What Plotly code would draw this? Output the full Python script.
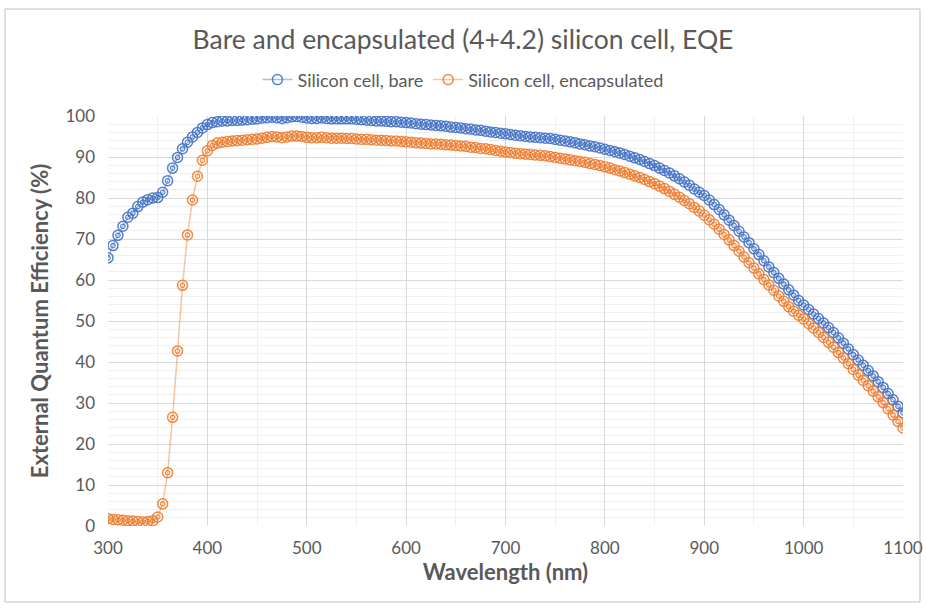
import plotly.graph_objects as go

# Wavelength grid (nm), 5 nm steps
wavelength = list(range(300, 1105, 5))

# EQE (%) of the bare silicon cell
eqe_bare = [
    65.4, 68.4, 70.9, 73.1, 75.3, 76.3, 77.9, 79.0, 79.6, 80.0,   # 300-345
    80.1, 81.4, 84.2, 87.3, 89.9, 92.0, 93.6, 94.9, 96.0, 97.1,   # 350-395
    97.9, 98.4, 98.6, 98.8, 98.8, 98.9, 98.9, 99.0, 99.1, 99.2,   # 400-445
    99.3, 99.5, 99.6, 99.7, 99.6, 99.4, 99.6, 99.8, 99.9, 99.7,   # 450-495
    99.5, 99.4, 99.4, 99.5, 99.4, 99.3, 99.3, 99.3, 99.3, 99.3,   # 500-545
    99.2, 99.1, 99.0, 98.9, 98.8, 98.8, 98.7, 98.6, 98.6, 98.5,   # 550-595
    98.4, 98.3, 98.1, 98.0, 97.9, 97.8, 97.7, 97.6, 97.5, 97.3,   # 600-645
    97.2, 97.1, 96.9, 96.8, 96.6, 96.5, 96.3, 96.1, 96.0, 95.8,   # 650-695
    95.7, 95.5, 95.3, 95.2, 95.0, 94.9, 94.8, 94.7, 94.6, 94.5,   # 700-745
    94.3, 94.1, 93.9, 93.7, 93.5, 93.2, 93.0, 92.7, 92.5, 92.2,   # 750-795
    91.9, 91.6, 91.3, 91.0, 90.6, 90.2, 89.8, 89.4, 88.9, 88.4,   # 800-845
    87.9, 87.3, 86.7, 86.1, 85.4, 84.7, 83.9, 83.1, 82.2, 81.4,   # 850-895
    80.6, 79.5, 78.4, 77.2, 75.9, 74.6, 73.3, 71.9, 70.5, 69.1,   # 900-945
    67.6, 66.2, 64.7, 63.2, 61.8, 60.4, 59.0, 57.6, 56.3, 55.0,   # 950-995
    53.9, 52.8, 51.7, 50.6, 49.5, 48.4, 47.2, 45.9, 44.6, 43.2,   # 1000-1045
    41.8, 40.5, 39.2, 37.9, 36.6, 35.2, 33.8, 32.3, 30.8, 29.2,   # 1050-1095
    27.6,                                                          # 1100
]

# EQE (%) of the encapsulated (4+4.2) silicon cell
eqe_encapsulated = [
    1.8, 1.6, 1.5, 1.4, 1.3, 1.2, 1.1, 1.0, 1.1, 1.3,             # 300-345
    2.2, 5.4, 13.0, 26.5, 42.7, 58.7, 71.0, 79.5, 85.3, 89.2,     # 350-395
    91.5, 92.8, 93.4, 93.6, 93.8, 93.9, 94.0, 94.1, 94.2, 94.3,   # 400-445
    94.4, 94.6, 94.8, 95.0, 94.9, 94.7, 94.9, 95.1, 95.1, 95.0,   # 450-495
    94.8, 94.7, 94.7, 94.8, 94.7, 94.6, 94.6, 94.6, 94.5, 94.5,   # 500-545
    94.4, 94.3, 94.3, 94.2, 94.1, 94.1, 94.0, 93.9, 93.9, 93.8,   # 550-595
    93.7, 93.6, 93.5, 93.4, 93.3, 93.2, 93.2, 93.1, 93.0, 92.9,   # 600-645
    92.8, 92.7, 92.6, 92.4, 92.3, 92.1, 92.0, 91.8, 91.6, 91.4,   # 650-695
    91.2, 91.1, 90.9, 90.8, 90.7, 90.6, 90.5, 90.4, 90.3, 90.1,   # 700-745
    89.9, 89.7, 89.5, 89.3, 89.1, 88.9, 88.7, 88.4, 88.2, 87.9,   # 750-795
    87.6, 87.3, 86.9, 86.6, 86.2, 85.8, 85.4, 85.0, 84.5, 84.0,   # 800-845
    83.5, 82.9, 82.3, 81.6, 80.9, 80.2, 79.4, 78.6, 77.7, 76.8,   # 850-895
    75.8, 74.7, 73.6, 72.4, 71.1, 69.8, 68.4, 67.0, 65.6, 64.2,   # 900-945
    62.9, 61.5, 60.1, 58.8, 57.5, 56.1, 54.8, 53.5, 52.4, 51.4,   # 950-995
    50.5, 49.4, 48.3, 47.2, 46.0, 44.8, 43.6, 42.3, 41.0, 39.6,   # 1000-1045
    38.2, 36.8, 35.5, 34.2, 32.9, 31.5, 30.1, 28.6, 27.1, 25.5,   # 1050-1095
    23.9,                                                          # 1100
]

series_names = ["Silicon cell, bare", "Silicon cell, encapsulated"]
series_values = [eqe_bare, eqe_encapsulated]
series_colors = ["68,114,196", "237,125,49"]

FONT = "Lato, 'Open Sans', sans-serif"
GREY = "#595959"

fig = go.Figure()

for name, vals, rgb in zip(series_names, series_values, series_colors):
    # connecting line with the outer ring of each marker
    fig.add_trace(go.Scatter(
        x=wavelength, y=vals, name=name, legendgroup=name,
        mode="lines+markers",
        line=dict(color=f"rgba({rgb},0.45)", width=1.5),
        marker=dict(symbol="circle-open", size=10,
                    color=f"rgba({rgb},0.9)",
                    line=dict(width=1.5, color=f"rgba({rgb},0.9)")),
    ))
    # inner ring of each marker
    fig.add_trace(go.Scatter(
        x=wavelength, y=vals, name=name, legendgroup=name, showlegend=False,
        mode="markers",
        marker=dict(symbol="circle-open", size=4.5,
                    color=f"rgba({rgb},0.9)",
                    line=dict(width=1.2, color=f"rgba({rgb},0.9)")),
        hoverinfo="skip",
    ))

fig.update_layout(
    width=926, height=608,
    margin=dict(l=108, r=23, t=116, b=82, autoexpand=False),
    paper_bgcolor="white", plot_bgcolor="white",
    font=dict(family=FONT, color=GREY, size=16),
    title=dict(text="Bare and encapsulated (4+4.2) silicon cell, EQE",
               x=0.5, xanchor="center", y=0.934, yanchor="middle",
               font=dict(family=FONT, size=26.5, color=GREY)),
    legend=dict(orientation="h", x=0.4465, xanchor="center",
                y=1.088, yanchor="middle",
                font=dict(family=FONT, size=18, color=GREY),
                itemwidth=30, bgcolor="rgba(0,0,0,0)"),
    showlegend=True,
)

fig.update_xaxes(
    range=[300, 1100], tick0=300, dtick=100, automargin=False,
    showgrid=True, gridcolor="#d9d9d9", gridwidth=1,
    minor=dict(dtick=50, showgrid=True, gridcolor="#f0f0f0", gridwidth=1),
    zeroline=False, showline=False, ticks="",
    ticklabelstandoff=10,
    tickfont=dict(family=FONT, size=17, color=GREY),
    title=dict(text="<b>Wavelength (nm)</b>", standoff=6,
               font=dict(family=FONT, size=22, color=GREY)),
)

fig.update_yaxes(
    range=[0, 100], tick0=0, dtick=10, automargin=False,
    showgrid=True, gridcolor="#d9d9d9", gridwidth=1,
    minor=dict(dtick=2, showgrid=True, gridcolor="#f0f0f0", gridwidth=1),
    zeroline=False, showline=False, ticks="",
    ticklabelstandoff=12,
    tickfont=dict(family=FONT, size=17, color=GREY),
    title=dict(text="<b>External Quantum Efficiency (%)</b>", standoff=10,
               font=dict(family=FONT, size=22, color=GREY)),
)

# Chart frame around the whole figure
fig.add_shape(type="rect", xref="paper", yref="paper",
              x0=(5 - 108) / 795, x1=(920 - 108) / 795,
              y0=(526 - 602) / 410, y1=(526 - 9) / 410,
              line=dict(color="#bfbfbf", width=1), layer="below")

fig.write_html("out.html")
